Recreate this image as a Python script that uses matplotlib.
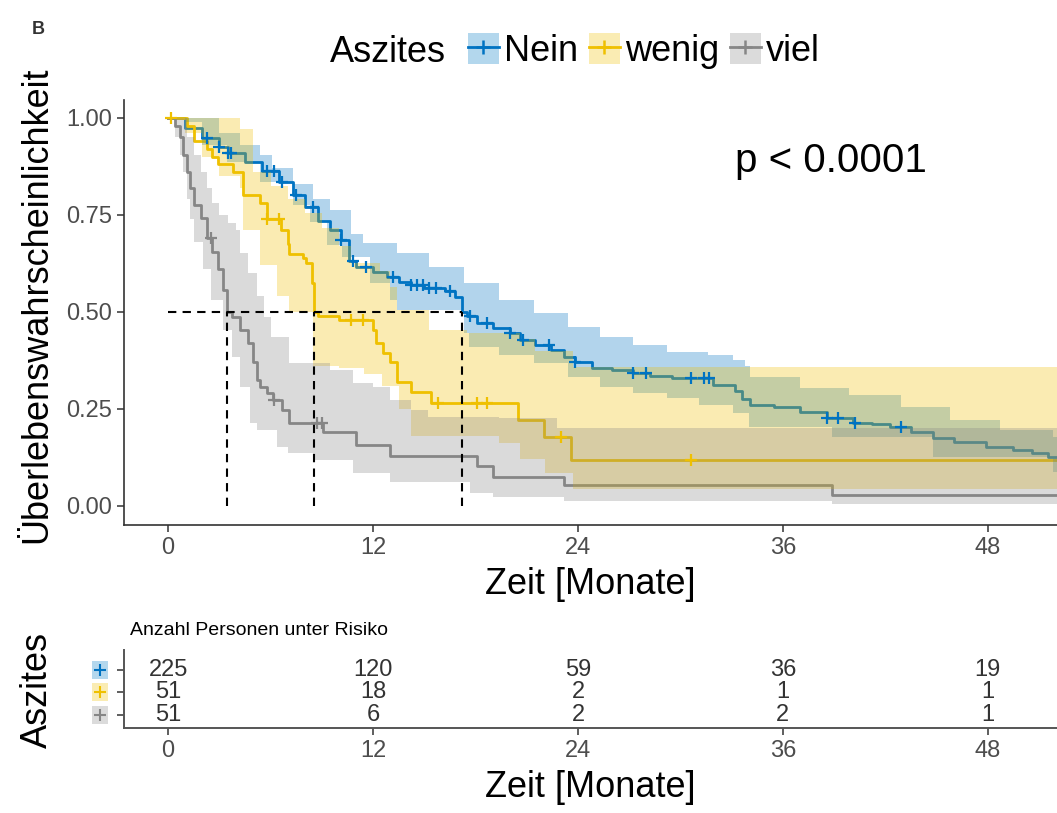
import matplotlib
matplotlib.use("Agg")
import matplotlib.pyplot as plt
import matplotlib.transforms as mtransforms
from matplotlib.patches import Patch, Rectangle
from matplotlib.lines import Line2D
import numpy as np

plt.rcParams['font.family'] = ['Liberation Sans', 'DejaVu Sans']

groups = ["Nein", "wenig", "viel"]
line_colors = ["#0073C2", "#EFC000", "#868686"]

# Kaplan-Meier steps (time in months, survival after the step)
nein_t = [0, 1.0, 2.0, 3.0, 3.5, 4.5, 5.5, 6.5, 7.3, 8.0, 8.8, 9.5, 10.1, 10.6, 11.0, 12.0, 12.8,
          13.5, 14.2, 15.0, 16.2, 16.8, 17.2, 17.5, 18.1, 19.0, 20.0, 20.6, 21.5, 22.4, 23.2, 23.8,
          24.8, 26.0, 27.2, 28.2, 29.5, 31.9, 33.2, 33.6, 34.1, 35.5, 37.0, 38.6, 40.1, 41.2, 42.3,
          43.5, 44.8, 46.0, 47.9, 49.5, 50.6, 51.5]
nein_s = [1.0, 0.975, 0.948, 0.925, 0.91, 0.885, 0.862, 0.835, 0.80, 0.77, 0.735, 0.71, 0.686, 0.63,
          0.615, 0.603, 0.59, 0.578, 0.57, 0.562, 0.553, 0.539, 0.50, 0.49, 0.472, 0.459, 0.445, 0.428,
          0.415, 0.402, 0.385, 0.371, 0.356, 0.35, 0.343, 0.335, 0.33, 0.312, 0.295, 0.275, 0.26, 0.255,
          0.242, 0.227, 0.214, 0.21, 0.204, 0.19, 0.175, 0.165, 0.152, 0.145, 0.137, 0.126]
nein_up_t = [0, 1.5, 3.0, 4.2, 5.4, 6.1, 7.3, 8.5, 9.5, 10.7, 11.4, 13.4, 15.3, 17.3, 19.4, 21.4, 23.4,
             25.3, 27.2, 29.2, 31.6, 33.1, 33.8, 34.1, 37.0, 39.9, 42.9, 45.8, 48.7, 51.8]
nein_up_s = [1.0, 1.0, 0.96, 0.93, 0.905, 0.87, 0.83, 0.79, 0.763, 0.70, 0.678, 0.652, 0.616, 0.575,
             0.53, 0.497, 0.461, 0.436, 0.415, 0.397, 0.389, 0.376, 0.36, 0.332, 0.304, 0.286, 0.255,
             0.222, 0.196, 0.178]
nein_lo_t = [0, 1.0, 2.0, 3.45, 5.4, 7.3, 8.3, 9.3, 10.2, 11.8, 13.0, 13.4, 17.3, 17.6, 19.4, 21.4,
             23.4, 25.3, 27.2, 29.2, 31.1, 33.1, 34.0, 38.9, 44.8, 51.8]
nein_lo_s = [1.0, 0.99, 0.93, 0.887, 0.835, 0.776, 0.732, 0.673, 0.642, 0.575, 0.531, 0.505, 0.446,
             0.41, 0.389, 0.369, 0.333, 0.307, 0.291, 0.278, 0.26, 0.24, 0.204, 0.178, 0.126, 0.088]
nein_cens = [2.3, 3.0, 3.5, 3.7, 5.8, 6.2, 6.7, 7.5, 8.5, 10.1, 10.8, 11.6, 13.2, 14.2, 14.6, 14.9,
             15.3, 15.7, 16.5, 17.7, 18.7, 20.0, 20.8, 22.3, 23.8, 27.2, 28.0, 30.6, 31.4, 31.7, 38.6,
             39.2, 40.2, 42.9]

wenig_t = [0, 1.1, 1.5, 2.3, 2.6, 2.9, 3.8, 4.4, 5.4, 5.8, 6.6, 7.0, 7.1, 7.9, 8.1, 8.4, 8.55, 8.8,
           10.0, 12.0, 12.2, 12.6, 13.0, 13.4, 14.2, 15.4, 20.5, 22.0, 23.6]
wenig_s = [1.0, 0.98, 0.94, 0.92, 0.90, 0.88, 0.86, 0.80, 0.78, 0.74, 0.71, 0.675, 0.65, 0.64, 0.625,
           0.575, 0.50, 0.49, 0.479, 0.454, 0.42, 0.394, 0.371, 0.32, 0.294, 0.265, 0.222, 0.177, 0.118]
wenig_up_t = [0, 4.2, 5.0, 6.0, 7.0, 8.0, 9.0, 10.0, 10.7, 12.4, 13.0, 13.4, 15.3, 17.5, 20.6, 21.5, 23.7]
wenig_up_s = [1.0, 0.97, 0.86, 0.825, 0.79, 0.755, 0.715, 0.67, 0.625, 0.605, 0.564, 0.505, 0.454, 0.446,
              0.43, 0.40, 0.358]
wenig_lo_t = [0, 1.0, 2.0, 3.0, 4.2, 4.4, 5.4, 6.4, 7.1, 8.5, 10.0, 11.5, 12.5, 13.5, 14.2, 19.4, 20.6,
              22.1, 23.7]
wenig_lo_s = [1.0, 0.96, 0.90, 0.85, 0.82, 0.71, 0.62, 0.54, 0.50, 0.36, 0.355, 0.34, 0.31, 0.25, 0.18,
              0.162, 0.12, 0.085, 0.045]
wenig_cens = [0.15, 5.8, 6.5, 10.7, 11.4, 15.8, 18.1, 18.7, 23.0, 30.6]

viel_t = [0, 0.4, 0.7, 0.9, 1.1, 1.3, 1.5, 1.9, 2.3, 2.6, 2.9, 3.2, 3.45, 3.75, 4.2, 4.7, 5.0, 5.2, 5.4,
          5.8, 6.15, 6.7, 7.1, 9.1, 11.0, 13.0, 18.1, 19.0, 23.2, 38.9]
viel_s = [1.0, 0.98, 0.95, 0.905, 0.86, 0.82, 0.776, 0.742, 0.69, 0.655, 0.61, 0.557, 0.50, 0.487, 0.454,
          0.42, 0.37, 0.325, 0.307, 0.29, 0.273, 0.247, 0.214, 0.19, 0.157, 0.129, 0.103, 0.075, 0.054, 0.028]
viel_up_t = [0, 0.4, 1.1, 1.5, 1.9, 2.3, 2.6, 3.0, 3.5, 4.0, 4.2, 4.7, 5.2, 5.6, 6.0, 7.1, 9.5, 10.8, 12.0,
             13.0, 14.2, 15.2, 19.4, 22.8]
viel_up_s = [1.0, 1.0, 0.95, 0.905, 0.86, 0.82, 0.78, 0.75, 0.73, 0.71, 0.652, 0.60, 0.54, 0.487, 0.435,
             0.369, 0.35, 0.317, 0.307, 0.273, 0.247, 0.23, 0.227, 0.20]
viel_lo_t = [0, 0.4, 0.7, 0.9, 1.1, 1.3, 1.5, 2.05, 2.5, 3.2, 3.75, 4.2, 4.8, 5.2, 6.4, 7.0, 8.5, 10.8,
             13.0, 17.7, 19.0, 23.2, 38.9]
viel_lo_s = [1.0, 0.95, 0.905, 0.86, 0.79, 0.74, 0.68, 0.61, 0.53, 0.454, 0.384, 0.307, 0.214, 0.196,
             0.152, 0.137, 0.119, 0.085, 0.062, 0.034, 0.022, 0.012, 0.004]
viel_cens = [2.5, 6.2, 8.7, 9.0]

risk_times = [0, 12, 24, 36, 48]
risk_nein = [225, 120, 59, 36, 19]
risk_wenig = [51, 18, 2, 1, 1]
risk_viel = [51, 6, 2, 2, 1]

XMIN, XMAX = -2.58, 52.05
W, H = 1057, 813


def step_at(ts, ss, x):
    idx = np.searchsorted(ts, x, side="right") - 1
    return np.asarray(ss)[idx]


curves = [
    (nein_t, nein_s, nein_up_t, nein_up_s, nein_lo_t, nein_lo_s, nein_cens),
    (wenig_t, wenig_s, wenig_up_t, wenig_up_s, wenig_lo_t, wenig_lo_s, wenig_cens),
    (viel_t, viel_s, viel_up_t, viel_up_s, viel_lo_t, viel_lo_s, viel_cens),
]

fig = plt.figure(figsize=(W / 100, H / 100), dpi=100)
ax = fig.add_axes([124 / W, 1 - 525 / H, 933 / W, 425 / H])
ax.set_xlim(XMIN, XMAX)
ax.set_ylim(-0.049, 1.046)

# curves first, bands drawn over them (as in the original), censor marks on top
for (t, s, ut, us, lt, ls, ct), c in zip(curves, line_colors):
    ax.step(np.append(t, XMAX), np.append(s, s[-1]), where="post", color=c, lw=2.0, zorder=1)
    grid = np.append(np.union1d(ut, lt), XMAX)
    ax.fill_between(grid, step_at(lt, ls, grid), step_at(ut, us, grid), step="post",
                    color=c, alpha=0.3, lw=0, zorder=2)
for (t, s, ut, us, lt, ls, ct), c in zip(curves, line_colors):
    ax.plot(ct, step_at(t, s, ct), ls="none", marker="+", ms=9, mew=1.6, color=c, zorder=4)

# median lines
medians = [t[np.argmax(np.asarray(s) <= 0.5)] for (t, s, *_rest) in curves]
ax.plot([0, max(medians)], [0.5, 0.5], color="black", lw=1.5, ls=(0, (4, 3)), zorder=5)
for m in medians:
    ax.plot([m, m], [0, 0.5], color="black", lw=1.5, ls=(0, (4, 3)), zorder=5)

ax.text(33.2, 0.89, "p < 0.0001", fontsize=29, ha="left", va="center")

for side in ["top", "right"]:
    ax.spines[side].set_visible(False)
for side in ["left", "bottom"]:
    ax.spines[side].set_color("#333333")
    ax.spines[side].set_linewidth(1.2)
ax.set_xticks(risk_times)
ax.set_yticks([0, 0.25, 0.5, 0.75, 1.0])
ax.set_yticklabels(["0.00", "0.25", "0.50", "0.75", "1.00"])
ax.tick_params(labelsize=17, colors="#333333", labelcolor="#4d4d4d", length=5, width=1.1)
ax.set_xlabel("Zeit [Monate]", fontsize=26, labelpad=6)
fig.text(37 / W, 1 - 305 / H, "Überlebenswahrscheinlichkeit", rotation=90, fontsize=26,
         ha="center", va="center")

# legend
fills = ["#B3D7ED", "#FAECB3", "#DBDBDB"]
handles = [(Patch(facecolor=f, edgecolor="none"),
            Line2D([], [], color=c, lw=2, marker="+", ms=10, mew=1.8))
           for f, c in zip(fills, line_colors)]
fig.text(330 / W, 1 - 52 / H, "Aszites", fontsize=26, ha="left", va="center")
fig.legend(handles, groups, loc="center left", bbox_to_anchor=(468 / W, 1 - 51 / H), ncol=3,
           frameon=False, fontsize=26, handlelength=0.85, handleheight=0.95, handletextpad=0.15,
           columnspacing=0.3, borderpad=0, borderaxespad=0)
fig.text(38 / W, 1 - 30 / H, "B", fontsize=13, fontweight="bold", color="#333333",
         ha="center", va="center")

# risk table
rax = fig.add_axes([124 / W, 1 - 728 / H, 933 / W, 78 / H])
rax.set_xlim(XMIN, XMAX)
rax.set_ylim(0.42, 3.89)
rows = [3, 2, 1]
for row, counts in zip(rows, [risk_nein, risk_wenig, risk_viel]):
    for t, n in zip(risk_times, counts):
        rax.text(t, row, str(n), fontsize=17, ha="center", va="center", color="#333333")
for side in ["top", "right"]:
    rax.spines[side].set_visible(False)
for side in ["left", "bottom"]:
    rax.spines[side].set_color("#555555")
    rax.spines[side].set_linewidth(1.4)
rax.set_xticks(risk_times)
rax.set_yticks(rows)
rax.set_yticklabels([])
rax.tick_params(labelsize=17, colors="#333333", labelcolor="#4d4d4d", length=5, width=1.1)
rax.set_xlabel("Zeit [Monate]", fontsize=26, labelpad=6)
trans = mtransforms.blended_transform_factory(rax.transAxes, rax.transData)
for row, f, c in zip(rows, fills, line_colors):
    rax.add_patch(Rectangle((-0.034, row - 0.4), 0.017, 0.8, transform=trans, facecolor=f,
                            edgecolor="none", clip_on=False))
    rax.plot([-0.0255], [row], transform=trans, marker="+", ms=8, mew=1.5, color=c, clip_on=False)
fig.text(130 / W, 1 - 630 / H, "Anzahl Personen unter Risiko", fontsize=14, ha="left", va="center")
fig.text(37 / W, 1 - 690 / H, "Aszites", rotation=90, fontsize=26, ha="center", va="center")

fig.savefig("out.png", dpi=100)
